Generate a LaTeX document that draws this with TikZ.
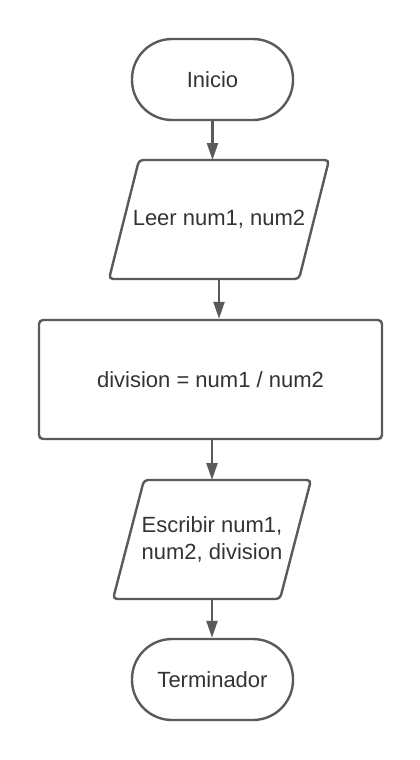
\documentclass[tikz,border=0pt]{standalone}
\usepackage{fontspec}
\setmainfont{Liberation Sans}
\usetikzlibrary{arrows.meta}
\definecolor{linegray}{HTML}{5A5A5A}
\definecolor{textgray}{HTML}{333333}

\tikzset{
    base/.style={draw=linegray, line width=2.4pt, text=textgray, inner sep=0pt,
        font=\fontsize{22}{27}\selectfont, align=center},
    termbox/.style={base, rectangle, rounded corners=40pt, minimum width=161pt, minimum height=81pt},
    iobox/.style={base, draw=none, rectangle, outer sep=0pt, minimum height=119pt},
    ioline/.style={draw=linegray, line width=2.4pt, rounded corners=4pt},
    procbox/.style={base, rectangle, rounded corners=4pt, minimum width=343pt, minimum height=119pt},
    flow/.style={draw=linegray, line width=2.4pt, -{Triangle[length=17pt, width=11pt]}}
}

\begin{document}
\begin{tikzpicture}[x=1pt, y=-1pt]
    \useasboundingbox (0,0) rectangle (420,760);

    % Boxes
    \node[termbox] (start) at (212.5, 79.5) {Inicio};
    \node[iobox, minimum width=220pt] (leer) at (219, 219.5) {Leer num1, num2};
    \node[procbox] (calc) at (210.5, 379.5) {division = num1 / num2};
    \node[iobox, minimum width=198pt] (escribir) at (212, 539.5) {Escribir num1,\\num2, division};
    \node[termbox] (fin) at (212.5, 679.5) {Terminador};

    % Parallelograms for input / output
    \draw[ioline] ([xshift=30pt]leer.north west) -- (leer.north east)
        -- ([xshift=-30pt]leer.south east) -- (leer.south west) -- cycle;
    \draw[ioline] ([xshift=31pt]escribir.north west) -- (escribir.north east)
        -- ([xshift=-31pt]escribir.south east) -- (escribir.south west) -- cycle;

    % Arrows
    \draw[flow] (start.south) -- (start.south |- leer.north);
    \draw[flow] (leer.south) -- (leer.south |- calc.north);
    \draw[flow] (escribir.north |- calc.south) -- (escribir.north);
    \draw[flow] (escribir.south) -- (escribir.south |- fin.north);
\end{tikzpicture}
\end{document}
